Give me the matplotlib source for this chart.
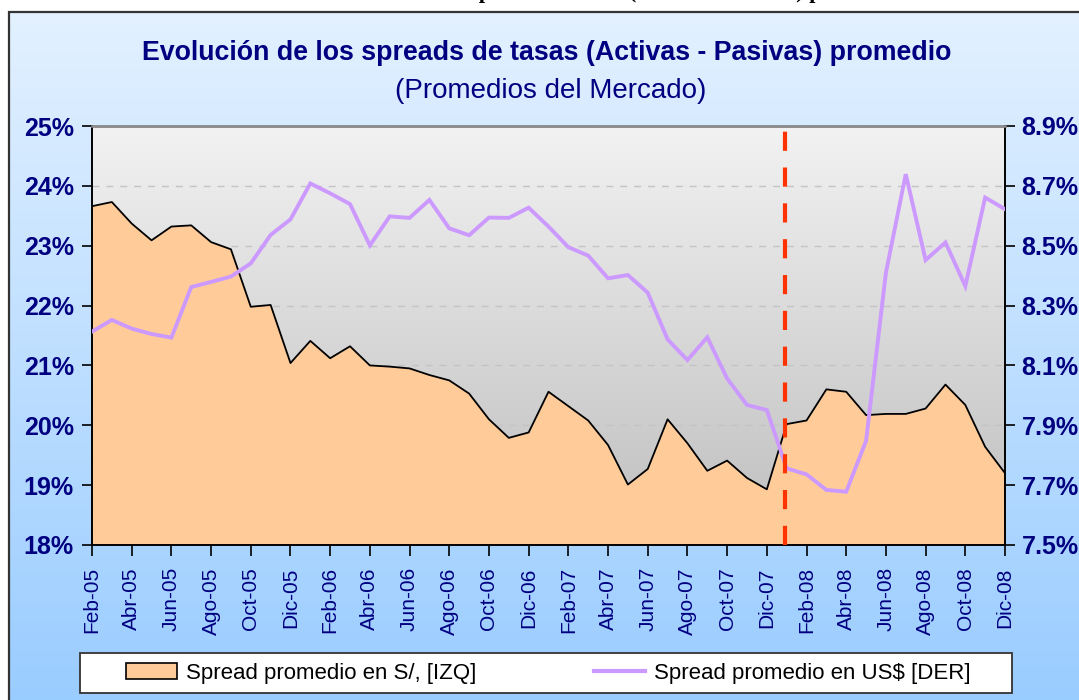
import numpy as np
import matplotlib.pyplot as plt
from matplotlib.colors import LinearSegmentedColormap
from matplotlib.patches import Rectangle, Patch
from matplotlib.lines import Line2D

plt.rcParams['font.family'] = ['Liberation Sans', 'DejaVu Sans']

W, H = 1079, 700
NAVY = '#000080'

# meses Feb-05 .. Dic-08
mes_nombres = ['Ene', 'Feb', 'Mar', 'Abr', 'May', 'Jun', 'Jul', 'Ago', 'Set', 'Oct', 'Nov', 'Dic']
meses = [f'{m}-{a:02d}' for a in range(5, 9) for m in mes_nombres][1:]

# spread promedio en S/ (eje izquierdo, %)
spread_pen = [23.66, 23.73, 23.37, 23.09, 23.32, 23.34, 23.06, 22.94, 21.98, 22.01,
              21.04, 21.41, 21.12, 21.32, 21.00, 20.98, 20.95, 20.84, 20.75, 20.53,
              20.10, 19.79, 19.88, 20.56, 20.32, 20.08, 19.67, 19.01, 19.27, 20.10,
              19.70, 19.24, 19.41, 19.12, 18.93, 20.02, 20.08, 20.60, 20.56, 20.17,
              20.19, 20.19, 20.28, 20.68, 20.34, 19.64, 19.20]

# spread promedio en US$ (eje derecho, %)
spread_usd = [8.213, 8.252, 8.223, 8.205, 8.193, 8.362, 8.379, 8.397, 8.441, 8.536,
              8.588, 8.708, 8.675, 8.639, 8.501, 8.598, 8.593, 8.653, 8.558, 8.535,
              8.594, 8.593, 8.627, 8.564, 8.495, 8.467, 8.391, 8.402, 8.343, 8.187,
              8.118, 8.194, 8.056, 7.968, 7.951, 7.756, 7.736, 7.684, 7.678, 7.848,
              8.410, 8.739, 8.452, 8.511, 8.365, 8.661, 8.622]

ticks_izq = [18, 19, 20, 21, 22, 23, 24, 25]
ticks_der = [7.5, 7.7, 7.9, 8.1, 8.3, 8.5, 8.7, 8.9]
corte = 34.9  # linea vertical roja

x = np.arange(len(meses))

fig = plt.figure(figsize=(W / 100, H / 100), dpi=100, facecolor='white')

# fondo degradado del grafico
bg = fig.add_axes([0, 0, 1, 1], zorder=-10)
bg.set_xlim(0, 1)
bg.set_ylim(0, 1)
bg.axis('off')
grad = np.linspace(0, 1, 256).reshape(-1, 1)
cmap_bg = LinearSegmentedColormap.from_list('bg', ['#E3F1FF', '#99CCFF'])
bg.imshow(grad, extent=[9 / W, 1.01, -0.01, 1 - 12 / H], cmap=cmap_bg, aspect='auto')
bg.add_patch(Rectangle((9 / W, -0.01), 1.1, 1 - 12 / H + 0.01, fill=False,
                       ec='#333333', lw=1.6))
# marco de la leyenda
bg.add_patch(Rectangle((80 / W, 7 / H), 932 / W, 40 / H, fc='white', ec='#333333', lw=1.3))

ax = fig.add_axes([92 / W, 155 / H, 913 / W, 419 / H])
ax.set_facecolor('none')
cmap_ax = LinearSegmentedColormap.from_list('ax', ['#F2F2F2', '#BEBEBE'])
ax.imshow(grad, extent=[0, 1, 0, 1], transform=ax.transAxes, cmap=cmap_ax,
          aspect='auto', zorder=0)

ax.fill_between(x, 18, spread_pen, color='#FFCC99', lw=0, zorder=2)
ax.plot(x, spread_pen, color='black', lw=1.3, zorder=3)

ax.set_xlim(0, len(meses) - 1)
ax.set_ylim(18, 25)
ax.set_yticks(ticks_izq, labels=[f'{t}%' for t in ticks_izq], fontweight='bold')
ax.set_xticks(x[::2], labels=meses[::2], rotation=90)
ax.yaxis.grid(True, color='#C4C4C4', ls=(0, (5, 5)), lw=1)
ax.set_axisbelow(True)
ax.tick_params(axis='y', direction='out', length=7, width=1.2, labelsize=18,
               labelcolor=NAVY, pad=6)
ax.tick_params(axis='x', direction='out', length=8, width=1.2, labelsize=15,
               labelcolor=NAVY, pad=8)

ax2 = ax.twinx()
ax2.plot(x, spread_usd, color='#CC99FF', lw=2.8, zorder=3, solid_joinstyle='miter')
ax2.axvline(corte, color='#FF3300', lw=3, dashes=(4.6, 4), zorder=4)
ax2.set_ylim(7.5, 8.9)
ax2.set_yticks(ticks_der, labels=[f'{t:.1f}%' for t in ticks_der], fontweight='bold')
ax2.tick_params(axis='y', direction='out', length=7, width=1.2, labelsize=18,
                labelcolor=NAVY, pad=5)

for a in (ax, ax2):
    for s in ('left', 'right', 'bottom'):
        a.spines[s].set_color('black')
        a.spines[s].set_linewidth(1.2)
    a.spines['top'].set_color('#8C8C8C')
    a.spines['top'].set_linewidth(1.8)

# textos (el primero queda cortado arriba, como en el original)
fig.text(310 / W, 1 + 2 / H, 'Evolución de los spreads de tasas (Activas - Pasivas) promedio',
         family='Liberation Serif', fontweight='bold', fontsize=16, va='baseline', ha='left')
fig.text(547 / W, 1 - 53 / H, 'Evolución de los spreads de tasas (Activas - Pasivas) promedio',
         ha='center', va='center', fontsize=19.3, fontweight='bold', color=NAVY)
fig.text(551 / W, 1 - 91 / H, '(Promedios del Mercado)', ha='center', va='center',
         fontsize=20, color=NAVY)

handles = [Patch(facecolor='#FFCC99', edgecolor='black', lw=1.2),
           Line2D([], [], color='#CC99FF', lw=3)]
labels = ['Spread promedio en S/, [IZQ]', 'Spread promedio en US$ [DER]']
fig.legend(handles, labels, loc='center', bbox_to_anchor=(548 / W, 27 / H), ncol=2,
           frameon=False, fontsize=16, handlelength=2.3, handleheight=0.7,
           handletextpad=0.4, columnspacing=5.3)

fig.savefig('out.png', dpi=100, facecolor='white')
